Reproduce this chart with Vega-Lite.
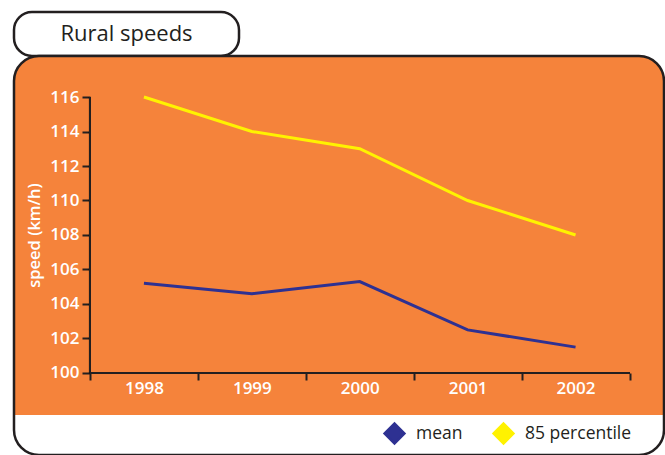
{
  "$schema": "https://vega.github.io/schema/vega-lite/v6.json",
  "background": "white",
  "padding": {"left": 12, "top": 10, "right": 3, "bottom": 2},
  "bounds": "flush",
  "spacing": 0,
  "config": {
    "font": "Open Sans",
    "axis": {"grid": false, "labelOverlap": false}
  },
  "vconcat": [
    {
      "width": 225,
      "height": 44,
      "view": {"stroke": "#231F20", "strokeWidth": 2.5, "fill": "white", "cornerRadius": 18},
      "data": {"values": [{"label": "Rural speeds"}]},
      "mark": {"type": "text", "font": "Open Sans", "fontSize": 22, "color": "#231F20", "align": "center", "baseline": "middle"},
      "encoding": {"text": {"field": "label"}}
    },
    {
      "width": 650,
      "height": 399,
      "view": {
        "stroke": "#231F20",
        "strokeWidth": 2.5,
        "cornerRadius": 25,
        "fill": {
          "gradient": "linear", "x1": 0, "y1": 0, "x2": 0, "y2": 1,
          "stops": [
            {"offset": 0, "color": "#F5833B"},
            {"offset": 0.899, "color": "#F5833B"},
            {"offset": 0.9, "color": "#FFFFFF"},
            {"offset": 1, "color": "#FFFFFF"}
          ]
        }
      },
      "data": {"values": [
        {"year": 1998, "series": "mean", "speed": 105.2},
        {"year": 1999, "series": "mean", "speed": 104.6},
        {"year": 2000, "series": "mean", "speed": 105.3},
        {"year": 2001, "series": "mean", "speed": 102.5},
        {"year": 2002, "series": "mean", "speed": 101.5},
        {"year": 1998, "series": "85 percentile", "speed": 116},
        {"year": 1999, "series": "85 percentile", "speed": 114},
        {"year": 2000, "series": "85 percentile", "speed": 113},
        {"year": 2001, "series": "85 percentile", "speed": 110},
        {"year": 2002, "series": "85 percentile", "speed": 108}
      ]},
      "resolve": {"axis": {"x": "independent", "y": "independent"}},
      "layer": [
        {
          "mark": {"type": "rule", "color": "#231F20", "strokeWidth": 2},
          "encoding": {
            "x": {"datum": 1997.5, "type": "quantitative", "axis": null},
            "y": {"datum": 100, "type": "quantitative", "axis": null},
            "y2": {"datum": 116}
          }
        },
        {
          "mark": {"type": "rule", "color": "#231F20", "strokeWidth": 2},
          "encoding": {
            "x": {
              "datum": 1997.5,
              "type": "quantitative",
              "axis": {
                "orient": "bottom",
                "offset": -82,
                "title": null,
                "domain": false,
                "labels": false,
                "values": [1997.5, 1998.5, 1999.5, 2000.5, 2001.5, 2002.5],
                "tickSize": 7,
                "tickWidth": 2,
                "tickColor": "#231F20"
              }
            },
            "x2": {"datum": 2002.5},
            "y": {"datum": 100, "type": "quantitative", "axis": null}
          }
        },
        {
          "mark": {"type": "line", "strokeWidth": 3},
          "encoding": {
            "x": {
              "field": "year",
              "type": "quantitative",
              "scale": {"domain": [1996.7957, 2002.8197], "nice": false, "zero": false},
              "axis": {
                "orient": "bottom",
                "offset": -82,
                "title": null,
                "domain": false,
                "values": [1998, 1999, 2000, 2001, 2002],
                "format": "d",
                "labelOverlap": false,
                "labelFlush": false,
                "tickSize": 7,
                "tickColor": "transparent",
                "labelColor": "white",
                "labelFont": "Open Sans",
                "labelFontSize": 17,
                "labelFontWeight": 600,
                "labelPadding": 0
              }
            },
            "y": {
              "field": "speed",
              "type": "quantitative",
              "scale": {"domain": [95.246, 118.377], "nice": false, "zero": false},
              "axis": {
                "orient": "left",
                "offset": -76,
                "title": "speed (km/h)",
                "domain": false,
                "values": [100, 102, 104, 106, 108, 110, 112, 114, 116],
                "format": "d",
                "labelOverlap": false,
                "tickSize": 8,
                "tickWidth": 2,
                "tickColor": "#231F20",
                "labelColor": "white",
                "labelFont": "Open Sans",
                "labelFontSize": 17,
                "labelFontWeight": 600,
                "labelPadding": 3,
                "titleColor": "white",
                "titleFont": "Open Sans",
                "titleFontSize": 16.5,
                "titleFontWeight": 600,
                "titleX": -56,
                "titleY": 179,
                "titleBaseline": "middle"
              }
            },
            "color": {
              "field": "series",
              "type": "nominal",
              "scale": {"domain": ["mean", "85 percentile"], "range": ["#2E3192", "#FFF200"]},
              "legend": {
                "orient": "none",
                "legendX": 369,
                "legendY": 410,
                "direction": "horizontal",
                "title": null,
                "gridAlign": "none",
                "symbolType": "diamond",
                "symbolSize": 420,
                "symbolStrokeWidth": 2,
                "symbolStrokeColor": "#231F20",
                "labelFont": "Open Sans",
                "labelFontSize": 17.5,
                "labelColor": "#231F20",
                "labelOffset": 10,
                "columnPadding": 26,
                "encode": {
                  "symbols": {
                    "update": {
                      "fill": {"scale": "color", "field": "value"},
                      "fillOpacity": {"value": 1},
                      "stroke": {"value": "#231F20"},
                      "strokeOpacity": {"value": 1},
                      "strokeWidth": {"value": 2},
                      "opacity": {"value": 1}
                    }
                  }
                }
              }
            }
          }
        }
      ]
    }
  ]
}
